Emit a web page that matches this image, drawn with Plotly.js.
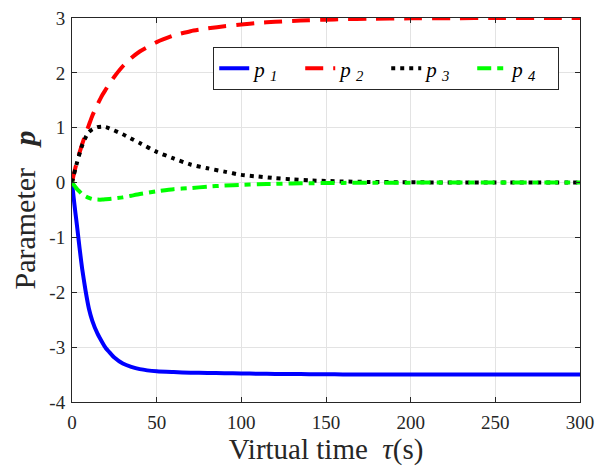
<!DOCTYPE html>
<html>
<head>
<meta charset="utf-8">
<script src="https://cdn.plot.ly/plotly-3.0.1.min.js"></script>
<style>html,body{margin:0;padding:0;background:#fff;}#chart{width:595px;height:470px;}</style>
</head>
<body>
<div id="chart"></div>
<script>
// time samples (s)
const t = [0, 1, 2, 3, 4, 5, 6, 8, 10, 12, 15, 18, 20, 22, 25, 30, 35, 40, 50, 60, 70, 80, 90, 100, 110, 120, 130, 140, 150, 160, 175, 200, 225, 250, 275, 300];
// p1 (blue solid)
const p1 = [0, -0.28, -0.55, -0.8, -1.07, -1.33, -1.57, -1.97, -2.3, -2.52, -2.75, -2.92, -3.02, -3.09, -3.19, -3.3, -3.36, -3.4, -3.44, -3.455, -3.465, -3.47, -3.475, -3.48, -3.485, -3.488, -3.49, -3.492, -3.495, -3.497, -3.498, -3.5, -3.5, -3.5, -3.5, -3.5];
// p2 (red dashed)
const p2 = [0, 0.14, 0.27, 0.39, 0.5, 0.6, 0.7, 0.88, 1.05, 1.22, 1.42, 1.6, 1.7, 1.8, 1.93, 2.12, 2.27, 2.39, 2.56, 2.68, 2.76, 2.81, 2.85, 2.88, 2.91, 2.93, 2.945, 2.96, 2.97, 2.978, 2.986, 2.994, 2.997, 2.999, 3.0, 3.0];
// p3 (black dotted)
const p3 = [0, 0.13, 0.25, 0.37, 0.48, 0.58, 0.68, 0.82, 0.92, 0.97, 1.01, 1.02, 1.01, 0.99, 0.95, 0.88, 0.8, 0.72, 0.56, 0.44, 0.33, 0.26, 0.2, 0.14, 0.11, 0.08, 0.06, 0.04, 0.03, 0.02, 0.012, 0.005, 0.002, 0.001, 0, 0];
// p4 (green dash-dot)
const p4 = [0, -0.04, -0.08, -0.12, -0.15, -0.18, -0.21, -0.25, -0.28, -0.3, -0.31, -0.31, -0.305, -0.3, -0.29, -0.27, -0.24, -0.21, -0.16, -0.12, -0.1, -0.075, -0.055, -0.042, -0.032, -0.024, -0.017, -0.012, -0.009, -0.006, -0.003, -0.001, 0, 0, 0, 0];
const xTicks = [0, 50, 100, 150, 200, 250, 300];
const xTickText = ['0', '50', '100', '150', '200', '250', '300'];
const yTicks = [-4, -3, -2, -1, 0, 1, 2, 3];
const yTickText = ['-4', '-3', '-2', '-1', '0', '1', '2', '3'];

const serif = 'Liberation Serif, Times New Roman, serif';
const traces = [
  {x: t, y: p1, name: '<i>p <sub>1</sub></i>', mode: 'lines', line: {color: '#0000ff', width: 4, shape: 'spline', smoothing: 0.6}},
  {x: t, y: p2, name: '<i>p <sub>2</sub></i>', mode: 'lines', line: {color: '#ff0000', width: 4, dash: '18px,10px', shape: 'spline', smoothing: 0.6}},
  {x: t, y: p3, name: '<i>p <sub>3</sub></i>', mode: 'lines', line: {color: '#000000', width: 4, dash: '4px,5px', shape: 'spline', smoothing: 0.6}},
  {x: t, y: p4, name: '<i>p <sub>4</sub></i>', mode: 'lines', line: {color: '#00ff00', width: 4, dash: '14px,6px,6px,6px', shape: 'spline', smoothing: 0.6}}
];
const axisCommon = {
  showline: true, linecolor: '#262626', linewidth: 1, mirror: 'ticks',
  ticks: 'inside', ticklen: 5, tickcolor: '#262626', tickwidth: 1,
  showgrid: true, gridcolor: '#e3e3e3', gridwidth: 1, zeroline: false,
  tickfont: {family: serif, size: 19, color: '#262626'}
};
const layout = {
  width: 595, height: 470,
  margin: {l: 72, r: 15, t: 18, b: 68},
  paper_bgcolor: '#fff', plot_bgcolor: '#fff',
  showlegend: true,
  xaxis: Object.assign({}, axisCommon, {
    range: [0, 300], tickvals: xTicks, ticktext: xTickText, ticklabelstandoff: 3,
    title: {text: 'Virtual time  <i>τ</i>(s)', font: {family: serif, size: 29, color: '#262626'}, standoff: 4}
  }),
  yaxis: Object.assign({}, axisCommon, {
    range: [-4, 3], tickvals: yTicks, ticktext: yTickText, ticklabelstandoff: 2,
    title: {text: 'Parameter   <b><i>p</i></b>', font: {family: serif, size: 30, color: '#262626'}, standoff: 4}
  }),
  legend: {
    orientation: 'h', x: 0.278, y: 0.924, xanchor: 'left', yanchor: 'top',
    bgcolor: '#ffffff', bordercolor: '#262626', borderwidth: 1,
    font: {family: serif, size: 21, color: '#000'},
    entrywidth: 41, tracegroupgap: 0
  }
};
Plotly.newPlot('chart', traces, layout, {displayModeBar: false, staticPlot: true});
</script>
</body>
</html>
